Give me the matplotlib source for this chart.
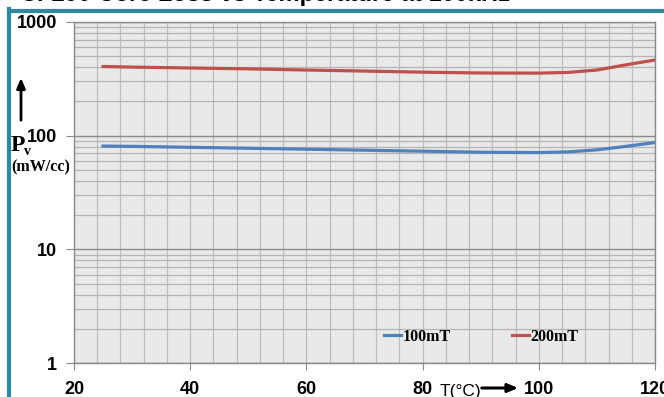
import numpy as np
import matplotlib
matplotlib.use("Agg")
import matplotlib.pyplot as plt
from matplotlib.lines import Line2D
from matplotlib.ticker import MultipleLocator, LogLocator, FixedLocator, FixedFormatter, NullFormatter

# data
temps = [25, 30, 40, 50, 60, 70, 80, 90, 100, 105, 110, 115, 120]
pv_100mT = [81, 80.5, 79, 77.5, 76, 74.5, 73, 71.5, 71, 72, 75, 80.5, 87]
pv_200mT = [406, 401, 394, 387, 378, 370, 362, 356, 355, 360, 378, 420, 463]
series_labels = ["100mT", "200mT"]
y_ticks = [1, 10, 100, 1000]
y_tick_labels = ["1", "10", "100", "1000"]
x_ticks = [20, 40, 60, 80, 100, 120]

BLUE = "#4f81bd"
RED = "#c0504d"
TEAL = "#31879e"

fig = plt.figure(figsize=(6.64, 3.97), dpi=100)
ax = fig.add_axes([74 / 664, 34 / 397, 581 / 664, 341 / 397])
ax.set_facecolor("#e9e9e9")

ax.plot(temps, pv_100mT, color=BLUE, lw=2.3, label=series_labels[0])
ax.plot(temps, pv_200mT, color=RED, lw=2.3, label=series_labels[1])

ax.set_yscale("log")
ax.set_xlim(20, 120)
ax.set_ylim(1, 1000)

ax.xaxis.set_major_locator(FixedLocator(x_ticks))
ax.xaxis.set_minor_locator(MultipleLocator(4))
ax.yaxis.set_major_locator(FixedLocator(y_ticks))
ax.yaxis.set_major_formatter(FixedFormatter(y_tick_labels))
ax.yaxis.set_minor_locator(LogLocator(base=10, subs=np.arange(2, 10)))
ax.yaxis.set_minor_formatter(NullFormatter())

ax.grid(True, which="minor", axis="y", color="#b4b4b4", lw=0.9)
ax.grid(True, which="major", axis="y", color="#8a8a8a", lw=1.0)
ax.grid(True, which="both", axis="x", color="#bdbdbd", lw=0.9)
ax.set_axisbelow(True)

for s in ax.spines.values():
    s.set_color("#8a8a8a")
    s.set_linewidth(1.0)

tick_font = dict(family="Liberation Sans", weight="bold", size=13)
ax.tick_params(axis="both", which="minor", length=0)
ax.tick_params(axis="y", which="major", length=6, color="#8a8a8a", pad=6)
ax.tick_params(axis="x", which="major", length=5, color="#8a8a8a", pad=8)
for lab in ax.get_xticklabels() + ax.get_yticklabels():
    lab.set_fontproperties(matplotlib.font_manager.FontProperties(**tick_font))

leg = ax.legend(loc="center", bbox_to_anchor=(0.701, 0.076), ncol=2, frameon=False,
                handlelength=1.1, handletextpad=0.1, columnspacing=3.8,
                prop=dict(family="Liberation Serif", weight="bold", size=11.5))

# title, cut off by the top edge like the reference
fig.text(20 / 664, 1 - 1 / 397, "CF290 Core Loss vs Temperature at 100kHz",
         ha="left", va="baseline", fontsize=17, weight="bold", family="Liberation Sans")

# teal frame lines
fig.add_artist(Line2D([9 / 664, 1], [1 - 10.5 / 397] * 2, color=TEAL, lw=3, transform=fig.transFigure))
fig.add_artist(Line2D([9 / 664] * 2, [0, 1 - 9 / 397], color=TEAL, lw=3, transform=fig.transFigure))

# y axis label with arrow
fig.text(11 / 664, 1 - 151 / 397, "P", ha="left", va="baseline",
         fontsize=17, weight="bold", family="Liberation Serif")
fig.text(24 / 664, 1 - 155 / 397, "v", ha="left", va="baseline",
         fontsize=10, weight="bold", family="Liberation Serif")
fig.text(11 / 664, 1 - 171 / 397, "(mW/cc)", ha="left", va="baseline",
         fontsize=11.5, weight="bold", family="Liberation Serif")
fig.add_artist(matplotlib.patches.FancyArrowPatch(
    (21 / 664, 1 - 123 / 397), (21 / 664, 1 - 75 / 397), transform=fig.transFigure,
    arrowstyle="-|>,head_length=6,head_width=2.5", color="black", lw=2))

# x axis label with arrow
fig.text(440 / 664, 1 - 396 / 397, "T(°C)", ha="left", va="baseline",
         fontsize=12.5, family="Liberation Sans")
fig.add_artist(matplotlib.patches.FancyArrowPatch(
    (479 / 664, 1 - 388 / 397), (521 / 664, 1 - 388 / 397), transform=fig.transFigure,
    arrowstyle="-|>,head_length=6,head_width=2.5", color="black", lw=2.2))

fig.savefig("out.png", dpi=100)
